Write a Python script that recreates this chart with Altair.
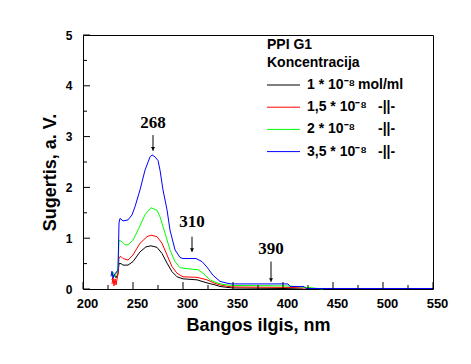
import altair as alt
import pandas as pd

# ---- data ----
black_wl = [229, 231, 233, 235, 236, 238, 240, 245, 250, 257, 263, 268, 274, 279, 284, 289, 294, 300, 314, 324, 332, 337, 345, 350, 400, 420]
black_val = [0.18, 0.28, 0.22, 0.30, 0.50, 0.50, 0.47, 0.47, 0.54, 0.73, 0.83, 0.85, 0.82, 0.70, 0.51, 0.34, 0.24, 0.20, 0.18, 0.12, 0.08, 0.05, 0.03, 0.02, 0.01, 0.0]

red_wl = [229, 230, 231, 232, 233, 235, 236, 238, 240, 245, 250, 257, 264, 268, 274, 279, 284, 289, 294, 300, 314, 324, 332, 337, 345, 350, 410, 430]
red_val = [0.10, 0.22, 0.06, 0.20, 0.08, 0.30, 0.62, 0.64, 0.60, 0.57, 0.67, 0.90, 1.03, 1.06, 1.03, 0.90, 0.67, 0.44, 0.31, 0.24, 0.23, 0.18, 0.11, 0.08, 0.05, 0.04, 0.03, 0.01]

green_wl = [229, 230, 232, 234, 235, 236, 239, 242, 245, 250, 255, 262, 268, 274, 277, 282, 287, 292, 297, 304, 315, 320, 327, 334, 340, 349, 405, 425, 440]
green_val = [0.25, 0.33, 0.25, 0.35, 0.40, 0.96, 0.93, 0.87, 0.87, 0.96, 1.16, 1.46, 1.60, 1.55, 1.42, 1.10, 0.77, 0.54, 0.42, 0.40, 0.38, 0.31, 0.18, 0.12, 0.09, 0.07, 0.06, 0.03, 0.0]

blue_wl = [228, 229, 230, 232, 235, 236, 237, 240, 245, 249, 252, 257, 262, 267, 269, 272, 275, 277, 280, 284, 287, 292, 297, 300, 313, 319, 324, 330, 337, 345, 349, 405, 407, 421, 423, 550]
blue_val = [0.25, 0.35, 0.22, 0.30, 0.37, 1.30, 1.39, 1.34, 1.36, 1.46, 1.62, 1.95, 2.34, 2.60, 2.64, 2.60, 2.53, 2.34, 1.95, 1.56, 1.16, 0.77, 0.62, 0.60, 0.60, 0.54, 0.43, 0.27, 0.15, 0.11, 0.10, 0.10, 0.05, 0.05, 0.01, 0.01]

series_labels = ["1 * 10⁻⁸", "1,5 * 10⁻⁸", "2 * 10⁻⁸", "3,5 * 10⁻⁸"]
series_units = ["mol/ml", "-||-", "-||-", "-||-"]
series_colors = ["#000000", "#ff0000", "#00ff00", "#0000ff"]

x_major = [200, 250, 300, 350, 400, 450, 500, 550]
x_minor = [225, 275, 325, 375, 425, 475, 525]
y_major = [0, 1, 2, 3, 4, 5]
y_minor = [0.5, 1.5, 2.5, 3.5, 4.5]

ann_text = ["268", "310", "390"]
ann_wl = [270, 309, 388]
ann_text_y = [3.27, 1.31, 0.79]
ann_top = [3.03, 1.03, 0.54]
ann_tip = [2.72, 0.73, 0.14]

# ---- layout ----
W, H = 350, 254
FONT = "Liberation Sans"

xs = alt.Scale(domain=[200, 550], nice=False, zero=False)
ys = alt.Scale(domain=[0, 5], nice=False, zero=True)

x_axis = alt.Axis(values=x_major, format="d", ticks=False, domain=False, grid=False,
                  labelFont=FONT, labelFontWeight="bold", labelFontSize=13, labelColor="black",
                  labelPadding=8, labelFlush=False, labelOffset=4,
                  title="Bangos ilgis, nm", titleFont=FONT, titleFontWeight="bold", titleFontSize=18,
                  titleColor="black", titleX=W / 2, titleY=41, titleBaseline="alphabetic")
y_axis = alt.Axis(values=y_major, format="d", ticks=False, domain=False, grid=False,
                  labelFont=FONT, labelFontWeight="bold", labelFontSize=12, labelColor="black",
                  labelPadding=11, labelFlush=False,
                  title="Sugertis, a. V.", titleFont=FONT, titleFontWeight="bold", titleFontSize=18,
                  titleColor="black", titleX=-28, titleY=137, titleBaseline="alphabetic")


def X(f):
    return alt.X(f, scale=xs, axis=x_axis)


def Y(f):
    return alt.Y(f, scale=ys, axis=y_axis)


layers = []
wls = [black_wl, red_wl, green_wl, blue_wl]
vals = [black_val, red_val, green_val, blue_val]
for wl, val, col in zip(wls, vals, series_colors):
    d = pd.DataFrame({"wl": wl, "v": val})
    layers.append(
        alt.Chart(d).mark_line(strokeWidth=1, color=col).encode(
            x=X("wl:Q"), y=Y("v:Q"), order="wl:Q",
        )
    )

# ticks (inward)
layers.append(alt.Chart(pd.DataFrame({"t": x_major})).mark_rule(color="black", strokeWidth=1).encode(
    x=X("t:Q"), y=alt.value(H), y2=alt.value(H - 7)))
layers.append(alt.Chart(pd.DataFrame({"t": x_minor})).mark_rule(color="black", strokeWidth=1).encode(
    x=X("t:Q"), y=alt.value(H), y2=alt.value(H - 4)))
layers.append(alt.Chart(pd.DataFrame({"t": y_major})).mark_rule(color="black", strokeWidth=1).encode(
    y=Y("t:Q"), x=alt.value(0), x2=alt.value(7)))
layers.append(alt.Chart(pd.DataFrame({"t": y_minor})).mark_rule(color="black", strokeWidth=1).encode(
    y=Y("t:Q"), x=alt.value(0), x2=alt.value(4)))

# annotations
ann = pd.DataFrame({"txt": ann_text, "wl": ann_wl, "ty": ann_text_y, "top": ann_top, "tip": ann_tip})
base = alt.Chart(ann)
layers.append(base.mark_text(font="Liberation Serif", fontWeight="bold", fontSize=17, color="black",
                             align="center", baseline="middle").encode(
    x=X("wl:Q"), y=Y("ty:Q"), text="txt:N"))
layers.append(base.mark_rule(color="black", strokeWidth=1).encode(
    x=X("wl:Q"), y=Y("top:Q"), y2="tip:Q"))
layers.append(base.mark_point(shape="triangle-down", filled=True, size=16, color="black", opacity=1,
                              yOffset=-2).encode(
    x=X("wl:Q"), y=Y("tip:Q")))

# legend (drawn inside the plot)
one = alt.Data(values=[{}])
layers.append(alt.Chart(one).mark_text(text="PPI G1", font=FONT, fontWeight="bold", fontSize=14,
                                       align="left", baseline="middle", color="black").encode(
    x=alt.value(184), y=alt.value(10)))
layers.append(alt.Chart(one).mark_text(text="Koncentracija", font=FONT, fontWeight="bold", fontSize=14,
                                       align="left", baseline="middle", color="black").encode(
    x=alt.value(184), y=alt.value(28)))
for i, (lab, unit, col) in enumerate(zip(series_labels, series_units, series_colors)):
    yy = 50 + i * 22.2
    layers.append(alt.Chart(one).mark_rule(color=col, strokeWidth=1).encode(
        x=alt.value(184), x2=alt.value(217), y=alt.value(yy)))
    layers.append(alt.Chart(one).mark_text(text=lab, font=FONT, fontWeight="bold", fontSize=14,
                                           align="left", baseline="middle", color="black").encode(
        x=alt.value(224), y=alt.value(yy)))
    layers.append(alt.Chart(one).mark_text(text=unit, font=FONT, fontWeight="bold", fontSize=14,
                                           align="left", baseline="middle", color="black").encode(
        x=alt.value(275 if i == 0 else 295), y=alt.value(yy)))

chart = alt.layer(*layers).properties(
    width=W, height=H,
    autosize=alt.AutoSizeParams(type="none"),
    padding={"left": 75, "top": 27, "right": 30, "bottom": 67},
    background="white",
).configure_view(stroke="black", strokeWidth=1)

chart.save("out.html", embed_options={"renderer": "svg", "actions": False})
